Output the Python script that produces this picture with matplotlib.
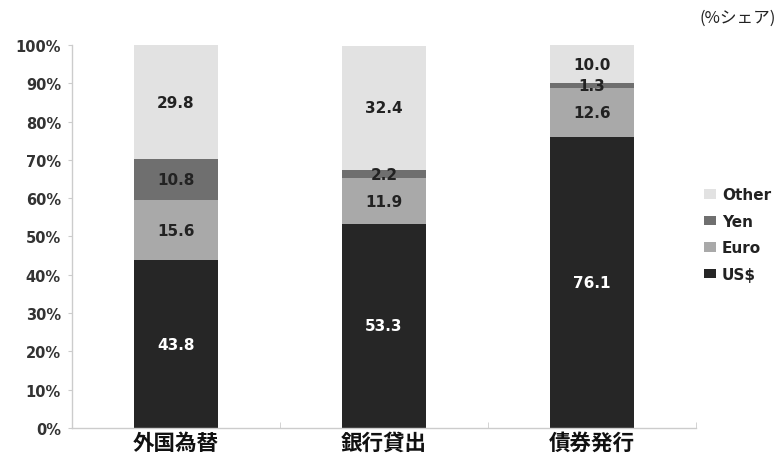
import numpy as np
import matplotlib.pyplot as plt

plt.rcParams['font.family'] = ['DejaVu Sans', 'Noto Sans CJK JP']

categories = ['外国為替', '銀行貸出', '債券発行']
usd = [43.8, 53.3, 76.1]
euro = [15.6, 11.9, 12.6]
yen = [10.8, 2.2, 1.3]
other = [29.8, 32.4, 10.0]

series = [('US$', usd, '#262626', 'white'),
          ('Euro', euro, '#a9a9a9', '#222222'),
          ('Yen', yen, '#6f6f6f', '#222222'),
          ('Other', other, '#e2e2e2', '#222222')]

fig = plt.figure(figsize=(7.8, 4.6), dpi=100)
ax = fig.add_axes([0.0923, 0.0674, 0.8, 0.8326])

x = np.arange(len(categories))
bottom = np.zeros(len(categories))
handles = []
for name, vals, color, tcolor in series:
    vals = np.array(vals)
    h = ax.bar(x, vals, width=0.40, bottom=bottom, color=color, label=name)
    handles.append(h)
    for xi, b, v in zip(x, bottom, vals):
        ax.text(xi, b + v / 2, f'{v:.1f}', ha='center', va='center',
                fontsize=11, fontweight='bold', color=tcolor)
    bottom += vals

ax.set_xlim(-0.5, 2.5)
ax.set_ylim(0, 100)
ax.set_yticks(np.arange(0, 101, 10))
ax.set_yticklabels([f'{v}%' for v in range(0, 101, 10)],
                   fontsize=10.5, fontweight='bold', color='#333333')
ax.set_xticks(x)
ax.set_xticklabels(categories, family=['Noto Sans CJK JP'], fontsize=15.5,
                   fontweight='bold', color='#111111')
ax.tick_params(axis='x', length=0, pad=3)
ax.set_xticks([0.5, 1.5, 2.5], minor=True)
ax.tick_params(axis='x', which='minor', direction='in', length=4, color='#cccccc')
ax.tick_params(axis='y', length=3, color='#cccccc', pad=5)

for s in ['top', 'right']:
    ax.spines[s].set_visible(False)
for s in ['left', 'bottom']:
    ax.spines[s].set_color('#cccccc')
    ax.spines[s].set_linewidth(1.0)

leg = ax.legend(handles[::-1], [s[0] for s in series][::-1],
                loc='center left', bbox_to_anchor=(0.99, 0.505),
                frameon=False, prop={'size': 11, 'weight': 'bold'},
                handlelength=0.8, handleheight=0.6,
                handletextpad=0.4, labelspacing=0.75)
for t in leg.get_texts():
    t.set_color('#222222')

fig.text(0.995, 0.96, '(%シェア)', family=['Noto Sans CJK JP'],
         ha='right', va='center', fontsize=12, color='#222222')

fig.savefig('out.png', dpi=100)
